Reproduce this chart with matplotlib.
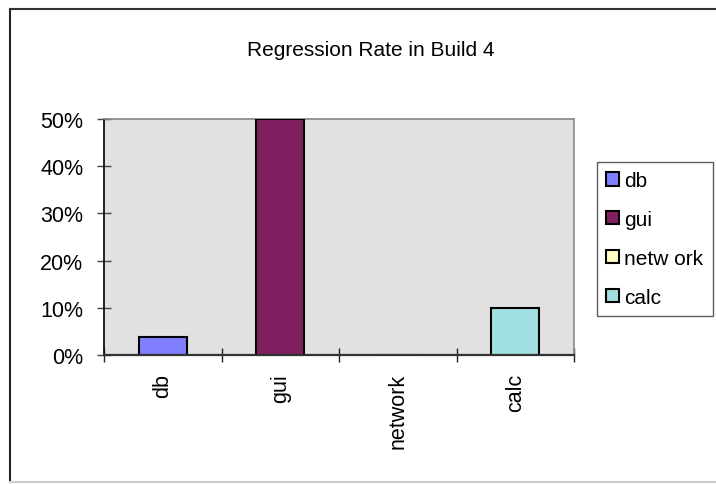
import matplotlib.pyplot as plt
from matplotlib.ticker import PercentFormatter, FixedLocator
from matplotlib.lines import Line2D

plt.rcParams['font.family'] = ['Liberation Sans', 'DejaVu Sans']

categories = ['db', 'gui', 'network', 'calc']
legend_labels = ['db', 'gui', 'netw ork', 'calc']
rates = [0.038, 0.50, 0.0, 0.10]
colors = ['#8080FF', '#801F5F', '#FFFFC0', '#A0E0E0']

W, H = 716, 485
fig = plt.figure(figsize=(W / 100, H / 100), dpi=100)
ax = fig.add_axes([104 / W, 1 - 356 / H, (574 - 104) / W, (356 - 120) / H])
ax.set_facecolor('#E1E1E1')

handles = []
for i, (cat, val, col) in enumerate(zip(categories, rates, colors)):
    b = ax.bar(i, val, width=0.41, color=col, edgecolor='black',
               linewidth=1.5, zorder=3, label=legend_labels[i])
    handles.append(b)

ax.set_xlim(-0.5, len(categories) - 0.5)
ax.set_ylim(0, 0.5)
ax.set_yticks([0, 0.1, 0.2, 0.3, 0.4, 0.5])
ax.yaxis.set_major_formatter(PercentFormatter(1.0, decimals=0))
ax.set_xticks(range(len(categories)))
ax.set_xticklabels(categories, rotation=90, va='top')
ax.xaxis.set_minor_locator(FixedLocator([i - 0.5 for i in range(len(categories) + 1)]))
ax.tick_params(axis='x', which='major', length=0, pad=13, labelsize=15.5)
ax.tick_params(axis='x', which='minor', length=10, width=1.0, direction='inout', color='#222222')
ax.tick_params(axis='y', length=10, width=1.0, direction='inout', pad=10,
               labelsize=15.5, color='#444444')

for side in ['top', 'right']:
    ax.spines[side].set_color('#888888')
    ax.spines[side].set_linewidth(1.2)
ax.spines['left'].set_color('#111111')
ax.spines['left'].set_linewidth(1.3)
ax.spines['bottom'].set_color('#333333')
ax.spines['bottom'].set_linewidth(1.6)
ax.spines['bottom'].set_zorder(4)

fig.text(371 / W, 1 - 50 / H, 'Regression Rate in Build 4', ha='center', va='center',
         fontsize=15)

leg = fig.legend(handles=handles, loc='upper left',
                 bbox_to_anchor=(597 / W, 1 - 163 / H), fontsize=15,
                 frameon=True, fancybox=False, edgecolor='#333333',
                 handlelength=0.6, handleheight=0.6, handletextpad=0.25,
                 labelspacing=0.95, borderpad=0.45, borderaxespad=0)
leg.get_frame().set_linewidth(1.0)
for h in leg.legend_handles:
    h.set_linewidth(1.5)

# chart area frame
fig.add_artist(Line2D([10 / W, 10 / W], [1 - 10 / H, 1 - 483 / H], color='#222222', lw=1.5))
fig.add_artist(Line2D([10 / W, 1.0], [1 - 10 / H, 1 - 10 / H], color='#333333', lw=1.5))
fig.add_artist(Line2D([10 / W, 1.0], [1 - 483 / H, 1 - 483 / H], color='#cccccc', lw=1.5))

fig.savefig('out.png', dpi=100)
